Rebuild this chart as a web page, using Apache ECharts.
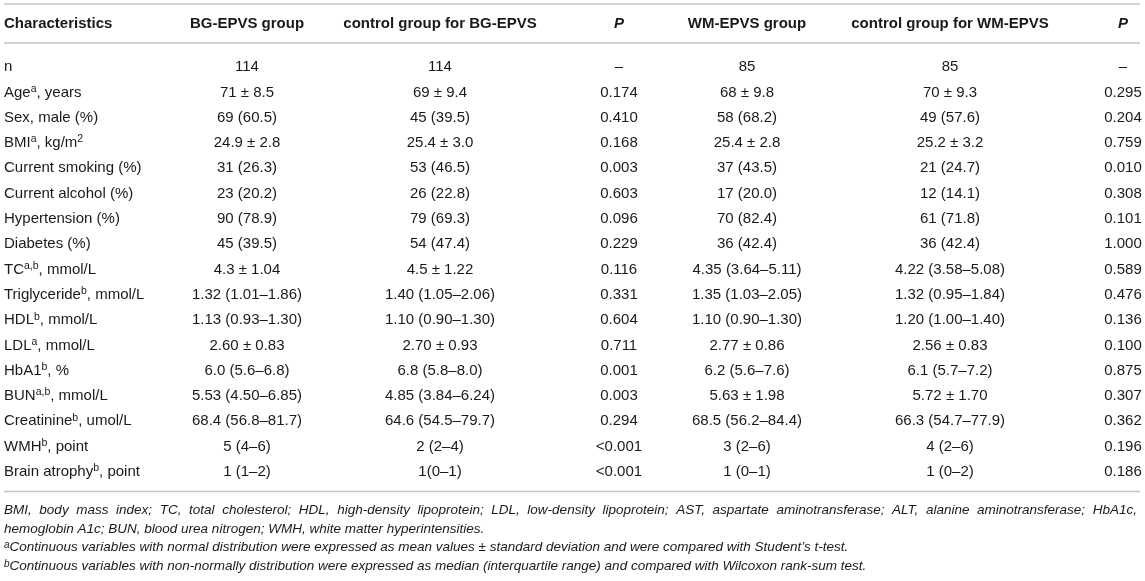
<!DOCTYPE html>
<html>
<head>
    <meta charset="utf-8">
    <title>EPVS table</title>
    <script src="https://cdn.jsdelivr.net/npm/echarts@6/dist/echarts.min.js"></script>
    <style>
        html, body { margin: 0; padding: 0; background: #fff; }
    </style>
</head>
<body>
    <div id="main" style="width: 1145px;height:581px;"></div>
    <script type="text/javascript">
        // table content
        var headers = ['Characteristics', 'BG-EPVS group', 'control group for BG-EPVS', '{pi|P}', 'WM-EPVS group', 'control group for WM-EPVS', '{pi|P}'];

        var characteristics = [
            'n', 'Age{sup|a}, years', 'Sex, male (%)', 'BMI{sup|a}, kg/m{sup|2}', 'Current smoking (%)',
            'Current alcohol (%)', 'Hypertension (%)', 'Diabetes (%)', 'TC{sup|a,b}, mmol/L', 'Triglyceride{sup|b}, mmol/L',
            'HDL{sup|b}, mmol/L', 'LDL{sup|a}, mmol/L', 'HbA1{sup|b}, %', 'BUN{sup|a,b}, mmol/L', 'Creatinine{sup|b}, umol/L',
            'WMH{sup|b}, point', 'Brain atrophy{sup|b}, point'
        ];
        var bgEpvs = ['114', '71 ± 8.5', '69 (60.5)', '24.9 ± 2.8', '31 (26.3)', '23 (20.2)', '90 (78.9)', '45 (39.5)',
            '4.3 ± 1.04', '1.32 (1.01–1.86)', '1.13 (0.93–1.30)', '2.60 ± 0.83', '6.0 (5.6–6.8)', '5.53 (4.50–6.85)',
            '68.4 (56.8–81.7)', '5 (4–6)', '1 (1–2)'];
        var bgControl = ['114', '69 ± 9.4', '45 (39.5)', '25.4 ± 3.0', '53 (46.5)', '26 (22.8)', '79 (69.3)', '54 (47.4)',
            '4.5 ± 1.22', '1.40 (1.05–2.06)', '1.10 (0.90–1.30)', '2.70 ± 0.93', '6.8 (5.8–8.0)', '4.85 (3.84–6.24)',
            '64.6 (54.5–79.7)', '2 (2–4)', '1(0–1)'];
        var bgP = ['–', '0.174', '0.410', '0.168', '0.003', '0.603', '0.096', '0.229', '0.116', '0.331', '0.604', '0.711',
            '0.001', '0.003', '0.294', '<0.001', '<0.001'];
        var wmEpvs = ['85', '68 ± 9.8', '58 (68.2)', '25.4 ± 2.8', '37 (43.5)', '17 (20.0)', '70 (82.4)', '36 (42.4)',
            '4.35 (3.64–5.11)', '1.35 (1.03–2.05)', '1.10 (0.90–1.30)', '2.77 ± 0.86', '6.2 (5.6–7.6)', '5.63 ± 1.98',
            '68.5 (56.2–84.4)', '3 (2–6)', '1 (0–1)'];
        var wmControl = ['85', '70 ± 9.3', '49 (57.6)', '25.2 ± 3.2', '21 (24.7)', '12 (14.1)', '61 (71.8)', '36 (42.4)',
            '4.22 (3.58–5.08)', '1.32 (0.95–1.84)', '1.20 (1.00–1.40)', '2.56 ± 0.83', '6.1 (5.7–7.2)', '5.72 ± 1.70',
            '66.3 (54.7–77.9)', '4 (2–6)', '1 (0–2)'];
        var wmP = ['–', '0.295', '0.204', '0.759', '0.010', '0.308', '0.101', '1.000', '0.589', '0.476', '0.136', '0.100',
            '0.875', '0.307', '0.362', '0.196', '0.186'];

        var footnotes = [
            'BMI, body mass index; TC, total cholesterol; HDL, high-density lipoprotein; LDL, low-density lipoprotein; AST, aspartate aminotransferase; ALT, alanine aminotransferase; HbA1c,',
            'hemoglobin A1c; BUN, blood urea nitrogen; WMH, white matter hyperintensities.',
            '{sup|a}Continuous variables with normal distribution were expressed as mean values ± standard deviation and were compared with Student’s t-test.',
            '{sup|b}Continuous variables with non-normally distribution were expressed as median (interquartile range) and compared with Wilcoxon rank-sum test.'
        ];

        var columns = [characteristics, bgEpvs, bgControl, bgP, wmEpvs, wmControl, wmP];

        // layout
        var colX = [4, 247, 440, 619, 747, 950, 1123];
        var rowH = 25.3;
        var gridTop = 54.5;
        var left = 4, right = 1140;
        var font = 'Liberation Sans';
        var noteSize = 13.5;
        var textColor = '#1a1a1a';
        var ruleColor = '#c4c4c4';

        var rich = {
            sup: { fontSize: 10.5, lineHeight: 7, verticalAlign: 'top', fontFamily: font },
            pi: { fontStyle: 'italic', fontWeight: 'bold', fontSize: 15, fontFamily: font }
        };
        var noteRich = {
            sup: { fontSize: 10, lineHeight: 6, verticalAlign: 'top', fontFamily: font, fontStyle: 'italic' }
        };

        var myChart = echarts.init(document.getElementById('main'), null, { renderer: 'canvas' });

        function renderRow(params, api) {
            var r = api.value(0);
            var children = [];
            for (var c = 0; c < columns.length; c++) {
                var p = api.coord([colX[c], r]);
                children.push({
                    type: 'text',
                    style: {
                        text: columns[c][r],
                        x: p[0], y: p[1],
                        align: c === 0 ? 'left' : 'center',
                        verticalAlign: 'middle',
                        fontFamily: font, fontSize: 15, lineHeight: 18,
                        fill: textColor,
                        rich: rich
                    }
                });
            }
            if (r === 0) {
                var hy = api.coord([0, 0])[1] - 43;
                for (var h = 0; h < headers.length; h++) {
                    children.push({
                        type: 'text',
                        style: {
                            text: headers[h],
                            x: colX[h], y: hy,
                            align: h === 0 ? 'left' : 'center',
                            verticalAlign: 'middle',
                            fontFamily: font, fontSize: 15, fontWeight: 'bold',
                            fill: textColor,
                            rich: rich
                        }
                    });
                }
            }
            return { type: 'group', children: children };
        }

        // first footnote line is justified to the table width
        var measure = document.createElement('canvas').getContext('2d');
        measure.font = 'italic ' + noteSize + 'px "' + font + '"';
        function justifiedLine(text, y) {
            var words = text.split(' ');
            var widths = words.map(function (w) { return measure.measureText(w).width; });
            var total = widths.reduce(function (a, b) { return a + b; }, 0);
            var gap = (right - 3 - left - total) / (words.length - 1);
            var x = left, out = [];
            words.forEach(function (w, i) {
                out.push({
                    type: 'text', x: x, y: y,
                    style: { text: w, fontFamily: font, fontSize: noteSize, fontStyle: 'italic', fill: textColor, verticalAlign: 'middle' }
                });
                x += widths[i] + gap;
            });
            return out;
        }

        var tableBottom = gridTop + rowH * characteristics.length;
        var graphics = [
            { type: 'line', shape: { x1: left, y1: 4, x2: right, y2: 4 }, style: { stroke: ruleColor, lineWidth: 1.5 } },
            { type: 'line', shape: { x1: left, y1: 43, x2: right, y2: 43 }, style: { stroke: ruleColor, lineWidth: 1.5 } },
            { type: 'line', shape: { x1: left, y1: tableBottom + 7, x2: right, y2: tableBottom + 7 }, style: { stroke: ruleColor, lineWidth: 1.5 } }
        ];
        footnotes.forEach(function (t, i) {
            var y = tableBottom + 26 + i * 18.5;
            if (i === 0) {
                graphics = graphics.concat(justifiedLine(t, y));
                return;
            }
            graphics.push({
                type: 'text',
                x: left, y: y,
                style: {
                    text: t,
                    fontFamily: font, fontSize: noteSize, fontStyle: 'italic',
                    fill: textColor, verticalAlign: 'middle',
                    rich: noteRich
                }
            });
        });

        option = {
            animation: false,
            grid: { left: 0, right: 0, top: gridTop, height: rowH * characteristics.length },
            xAxis: { type: 'value', min: 0, max: 1145, show: false },
            yAxis: { type: 'category', data: characteristics, inverse: true, show: false },
            series: [{
                type: 'custom',
                renderItem: renderRow,
                encode: { y: 0 },
                data: characteristics.map(function (d, i) { return [i]; })
            }],
            graphic: graphics
        };
        myChart.setOption(option);
    </script>
</body>
</html>
